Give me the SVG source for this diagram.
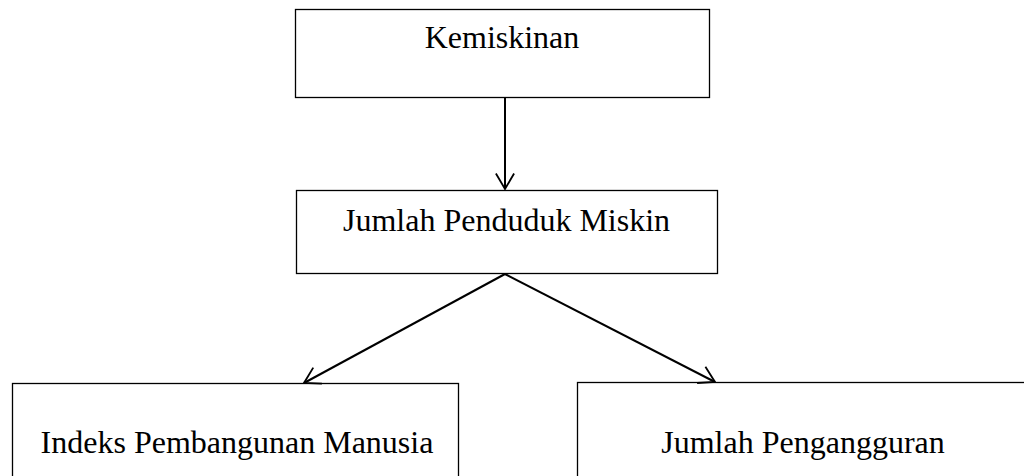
<svg xmlns="http://www.w3.org/2000/svg" width="1024" height="476" viewBox="0 0 1024 476">
<style>
.box{fill:#fff;stroke:#000;stroke-width:1.3}
.lbl{font-family:"Liberation Serif","Times New Roman",serif;font-size:32px;fill:#000;text-anchor:middle}
.conn{stroke:#000;stroke-width:2;fill:none}
</style>
<defs>
<marker id="arr" markerUnits="userSpaceOnUse" markerWidth="20" markerHeight="24" refX="17" refY="10" orient="auto" viewBox="-2 -2 22 24">
<path d="M0,0 L17,10 L0,20" fill="none" stroke="#000" stroke-width="2"/>
</marker>
</defs>
<rect width="1024" height="476" fill="#fff"/>
<g id="node-kemiskinan">
<rect class="box" x="295.5" y="9.5" width="414" height="88"/>
<text class="lbl" x="502" y="48">Kemiskinan</text>
</g>
<g id="node-jumlah-penduduk-miskin">
<rect class="box" x="296.5" y="190.5" width="421" height="83"/>
<text class="lbl" x="506.5" y="231">Jumlah Penduduk Miskin</text>
</g>
<g id="node-ipm">
<rect class="box" x="12.5" y="383.5" width="446" height="100"/>
<text class="lbl" x="237" y="453">Indeks Pembangunan Manusia</text>
</g>
<g id="node-pengangguran">
<rect class="box" x="577.5" y="382.5" width="460" height="100"/>
<text class="lbl" x="803" y="453">Jumlah Pengangguran</text>
</g>
<g id="connectors">
<line class="conn" x1="505" y1="98" x2="505" y2="189" marker-end="url(#arr)"/>
<line class="conn" x1="505" y1="274" x2="304" y2="383" marker-end="url(#arr)"/>
<line class="conn" x1="505" y1="274" x2="715" y2="382" marker-end="url(#arr)"/>
</g>
</svg>
